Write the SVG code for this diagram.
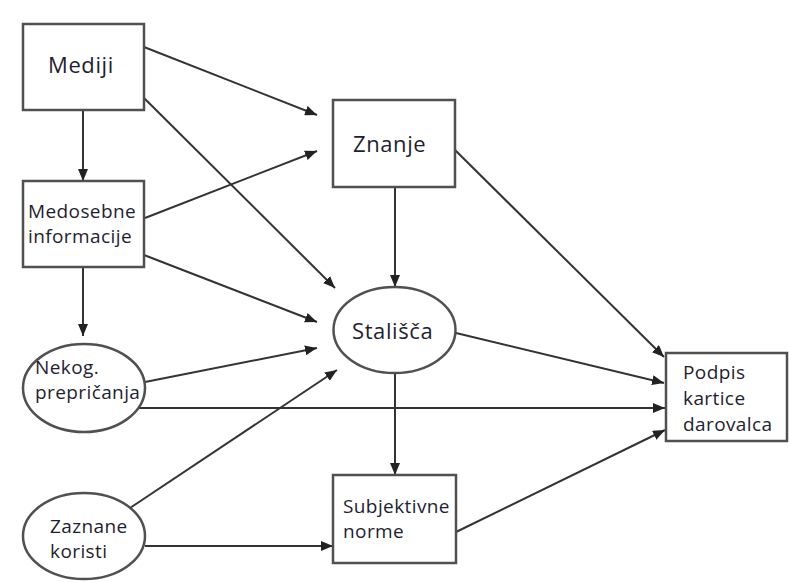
<svg xmlns="http://www.w3.org/2000/svg" width="789" height="582" viewBox="0 0 789 582">
<style>
.box{fill:#fff;stroke:#505050;stroke-width:2.5}
.lbl{font-family:"Open Sans","Noto Sans",sans-serif;fill:#1e1e30}
.big{font-size:22px;letter-spacing:0.6px}
.sm{font-size:19px;letter-spacing:0.4px}
.edge{stroke:#333;stroke-width:2;fill:none;marker-end:url(#ah)}
</style>
<defs>
<marker id="ah" markerUnits="userSpaceOnUse" markerWidth="13" markerHeight="10" refX="12" refY="5" orient="auto">
<path d="M0,0 L12,5 L0,10 Z" fill="#222"/>
</marker>
</defs>
<g id="connectors">
<line class="edge" x1="83" y1="110" x2="83" y2="181"/>
<line class="edge" x1="83" y1="267" x2="83" y2="336"/>
<line class="edge" x1="144" y1="47" x2="317" y2="115"/>
<line class="edge" x1="144" y1="98" x2="335" y2="288"/>
<line class="edge" x1="145" y1="218" x2="317" y2="151"/>
<line class="edge" x1="144" y1="255" x2="317" y2="322"/>
<line class="edge" x1="145" y1="382" x2="317" y2="348"/>
<line class="edge" x1="138" y1="408" x2="665" y2="408"/>
<line class="edge" x1="130" y1="508" x2="337" y2="370"/>
<line class="edge" x1="145" y1="546" x2="333" y2="546"/>
<line class="edge" x1="395" y1="187" x2="395" y2="287"/>
<line class="edge" x1="395" y1="373" x2="395" y2="475"/>
<line class="edge" x1="455" y1="150" x2="664" y2="357"/>
<line class="edge" x1="456" y1="333" x2="664" y2="383"/>
<line class="edge" x1="456" y1="532" x2="665" y2="430"/>
</g>
<g id="mediji">
<rect class="box" x="23" y="24" width="121" height="86"/>
<text class="lbl big" x="48" y="73">Mediji</text>
</g>
<g id="medosebne">
<rect class="box" x="23" y="181" width="121" height="86"/>
<text class="lbl sm" x="28" y="218">Medosebne</text>
<text class="lbl sm" x="28" y="243">informacije</text>
</g>
<g id="nekog">
<ellipse class="box" cx="84" cy="388" rx="61" ry="44"/>
<text class="lbl sm" x="35" y="374">Nekog.</text>
<text class="lbl sm" x="35" y="399">prepričanja</text>
</g>
<g id="zaznane">
<ellipse class="box" cx="84" cy="536" rx="61" ry="43"/>
<text class="lbl sm" x="50" y="533">Zaznane</text>
<text class="lbl sm" x="50" y="558">koristi</text>
</g>
<g id="znanje">
<rect class="box" x="333" y="100" width="122" height="87"/>
<text class="lbl big" x="353" y="152">Znanje</text>
</g>
<g id="stalisca">
<ellipse class="box" cx="394.5" cy="330" rx="61" ry="43"/>
<text class="lbl big" x="352" y="339">Stališča</text>
</g>
<g id="subjektivne">
<rect class="box" x="333" y="475" width="123" height="88"/>
<text class="lbl sm" x="343" y="513">Subjektivne</text>
<text class="lbl sm" x="343" y="538">norme</text>
</g>
<g id="podpis">
<rect class="box" x="666" y="353" width="121" height="88"/>
<text class="lbl sm" x="683" y="379">Podpis</text>
<text class="lbl sm" x="683" y="405">kartice</text>
<text class="lbl sm" x="683" y="431">darovalca</text>
</g>
</svg>
